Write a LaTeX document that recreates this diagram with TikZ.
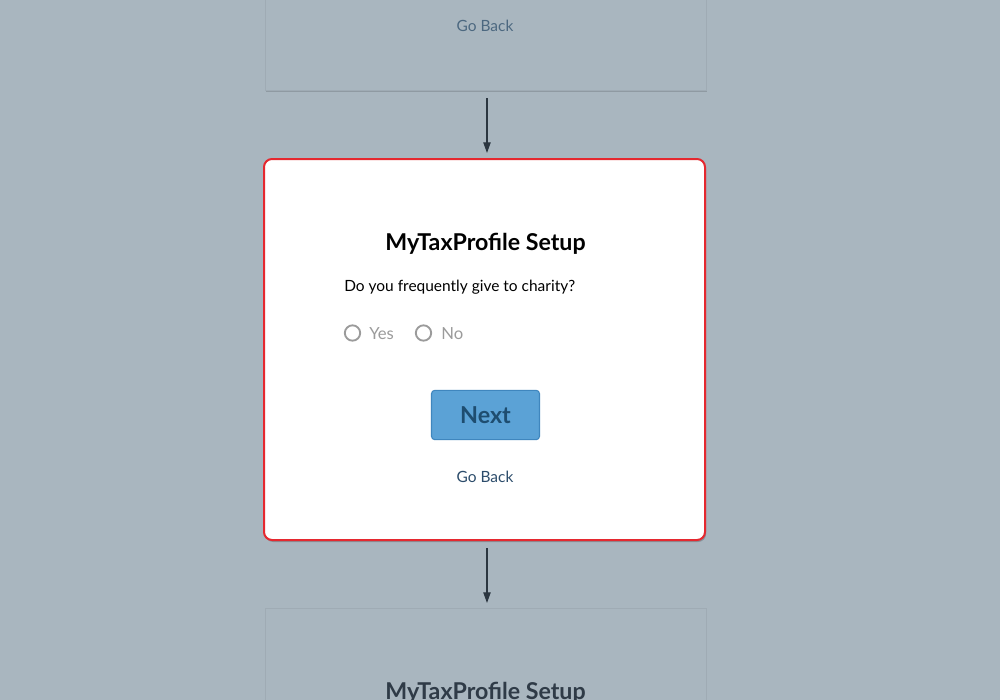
\documentclass[tikz,border=0pt]{standalone}
\usepackage{fontspec}
\setmainfont{Lato}
\usetikzlibrary{shadows,calc,arrows.meta}
\definecolor{pagebg}{HTML}{A9B6BF}
\definecolor{fadeedge}{HTML}{9FABB4}
\definecolor{alertred}{HTML}{E5282F}
\definecolor{btnfill}{HTML}{5BA2D6}
\definecolor{btnedge}{HTML}{3F86BE}
\definecolor{btntext}{HTML}{1E4D70}
\definecolor{linktext}{HTML}{2C4C6B}
\definecolor{fadelink}{HTML}{4C6880}
\definecolor{fadetitle}{HTML}{2F3B47}
\definecolor{radiogray}{HTML}{9B9B9B}
\definecolor{arrowink}{HTML}{2B3640}
\tikzset{
  fadebox/.style={draw=fadeedge, line width=0.6pt, fill=pagebg,
    drop shadow={shadow xshift=0.6pt, shadow yshift=-1.0pt, opacity=0.15, fill=black},
    minimum width=330.75pt, inner sep=0pt},
  activebox/.style={draw=alertred, line width=1.5pt, fill=white, rounded corners=6pt,
    drop shadow={shadow xshift=0.8pt, shadow yshift=-1.5pt, opacity=0.2, fill=black},
    minimum width=330.75pt, minimum height=285.75pt, inner sep=0pt},
  flowarrow/.style={draw=arrowink, line width=0.9pt, -{Triangle[length=8pt,width=5.5pt]}},
  titletext/.style={font=\fontsize{17.4pt}{20pt}\selectfont\bfseries, inner sep=0pt},
  bodytext/.style={font=\fontsize{11.6pt}{14pt}\selectfont, inner sep=0pt},
  optiontext/.style={font=\fontsize{12.5pt}{15pt}\selectfont, text=radiogray, inner sep=0pt},
  radiobtn/.style={circle, draw=radiogray, line width=1.4pt, minimum size=11.5pt, inner sep=0pt},
  nextbtn/.style={draw=btnedge, line width=0.8pt, fill=btnfill, rounded corners=2.5pt,
    minimum width=81pt, minimum height=37pt, text=btntext,
    font=\fontsize{17.5pt}{20pt}\selectfont\bfseries},
  linktext/.style={font=\fontsize{11.6pt}{14pt}\selectfont, text=linktext, inner sep=0pt}
}
\begin{document}
\begin{tikzpicture}[x=0.75pt, y=-0.75pt]
  \useasboundingbox (0,0) rectangle (1000,700);
  \fill[pagebg] (0,0) rectangle (1000,700);
  \clip (0,0) rectangle (1000,700);

  % previous step, mostly above the page
  \node[fadebox, minimum height=225pt, anchor=south] (prev) at (485.5,91) {};
  \node[linktext, text=fadelink] (prevback) at (485,25.5) {Go Back};

  % current step
  \node[activebox] (cur) at (484.5,349.5) {};
  \node[titletext] (title) at (485.5,243.5) {MyTaxProfile Setup};
  \node[bodytext, anchor=west] (question) at (344,287.5) {Do you frequently give to charity?};
  \node[radiobtn] (yesradio) at (352.5,333) {};
  \node[optiontext, anchor=west] (yes) at (369,334) {Yes};
  \node[radiobtn] (noradio) at (423.5,333) {};
  \node[optiontext, anchor=west] (no) at (441,334) {No};
  \node[nextbtn] (next) at (485.5,415) {Next};
  \node[linktext] (goback) at (485,476.5) {Go Back};

  % next step, mostly below the page
  \node[fadebox, minimum height=225pt, anchor=north] (after) at (485.5,608) {};
  \node[titletext, text=fadetitle] (aftertitle) at (485.5,693) {MyTaxProfile Setup};

  % connectors between steps
  \draw[flowarrow] ($(prev.south)+(1.5,7)$) -- ($(cur.north)+(2.5,-5)$);
  \draw[flowarrow] ($(cur.south)+(2.5,7)$) -- ($(after.north)+(1.5,-5)$);
\end{tikzpicture}
\end{document}
